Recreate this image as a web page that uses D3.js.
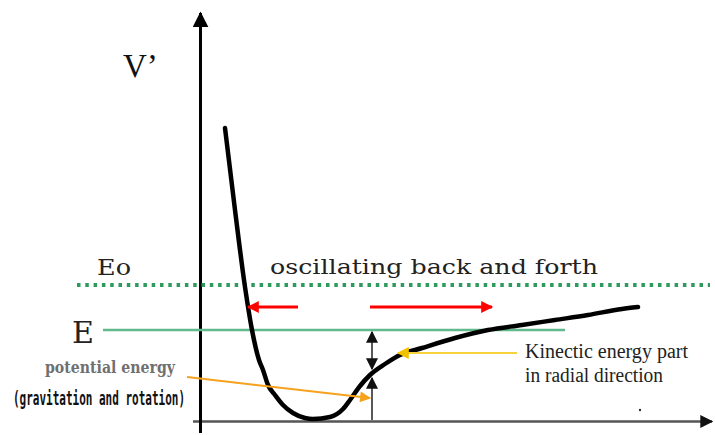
<!DOCTYPE html>
<html><head><meta charset="utf-8">
<script src="https://cdn.jsdelivr.net/npm/d3@7"></script>
<style>html,body{margin:0;padding:0;background:#fff}svg{display:block}</style>
</head><body>
<script>
// ---- data (chart units: r along x, V along y) ----
const rValues = [5, 7, 9, 10.4, 11.8, 12.6, 13.6, 15, 16.6, 18.6, 21, 22.6, 26, 28.6, 30, 32, 34, 37, 40, 44.4, 51, 57.6, 64.4, 71, 77.6, 84.4, 87.6];
const vValues = [73, 52.5, 33.25, 22.5, 15, 12.5, 8.75, 6.25, 3.75, 1.75, 0.5, 0.25, 0.75, 2.75, 5, 8.5, 11.25, 14, 16.25, 18, 20.5, 22.5, 23.75, 25, 26.25, 27.75, 28.25];
const levelNames = ["Eo", "E"];
const levelValues = [33.75, 22.5];
const levelStart = [-24.6, -19.4];
const levelEnd = [102, 73];
const motionArrowFrom = [19.6, 34];
const motionArrowTo = [9.6, 58.4];
const motionLevel = 28.25;
const markerR = 34.4;
const markerV = 11.25;
const titleText = "oscillating back and forth";
const axisLabel = "V’";
const peLabel = ["potential energy", "(gravitation and rotation)"];
const keLabel = ["Kinectic energy part", "in radial direction"];

const W = 715, H = 435;
const x = d3.scaleLinear().domain([0, 100]).range([200, 700]);
const y = d3.scaleLinear().domain([0, 100]).range([420, 20]);

const svg = d3.select("body").append("svg").attr("width", W).attr("height", H);
const defs = svg.append("defs");
function marker(id, color, w, h) {
  defs.append("marker").attr("id", id).attr("viewBox", "0 0 10 10").attr("refX", 9).attr("refY", 5)
    .attr("markerWidth", w).attr("markerHeight", h).attr("markerUnits", "userSpaceOnUse").attr("orient", "auto-start-reverse")
    .append("path").attr("d", "M0,0L10,5L0,10Z").attr("fill", color);
}
marker("axArrow", "#000", 16, 16);
marker("axArrowX", "#111", 15, 13);
marker("redArrow", "#f00", 17, 12);
marker("orArrow", "#f6a21c", 18, 11);
marker("yeArrow", "#f2c200", 14, 12);
marker("blkArrow", "#111", 12, 15);

// axes
svg.append("line").attr("x1", x(-1.4)).attr("x2", x(102.4)).attr("y1", y(0)+1.5).attr("y2", y(0)+1.5)
  .attr("stroke", "#555").attr("stroke-width", 2.5).attr("marker-end", "url(#axArrowX)");
svg.append("line").attr("x1", x(0)+0.5).attr("x2", x(0)+0.5).attr("y1", 433).attr("y2", 13)
  .attr("stroke", "#000").attr("stroke-width", 3).attr("marker-end", "url(#axArrow)");

// energy levels
levelNames.forEach((n, i) => {
  const l = svg.append("line").attr("x1", x(levelStart[i])).attr("x2", x(levelEnd[i]))
    .attr("y1", y(levelValues[i])).attr("y2", y(levelValues[i]));
  if (i === 0) l.attr("stroke", "#2f9a5e").attr("stroke-width", 4).attr("stroke-dasharray", "3.5,4.8");
  else l.attr("stroke", "#62b98c").attr("stroke-width", 2.5);
});

// curve
const pts = rValues.map((r, i) => [x(r), y(vValues[i])]);
svg.append("path").attr("d", d3.line().curve(d3.curveMonotoneX)(pts))
  .attr("fill", "none").attr("stroke", "#000").attr("stroke-width", 4.5).attr("stroke-linecap", "round").attr("stroke-linejoin", "round");

// motion arrows
motionArrowFrom.forEach((f, i) => {
  svg.append("line").attr("x1", x(f)).attr("x2", x(motionArrowTo[i])).attr("y1", y(motionLevel)).attr("y2", y(motionLevel))
    .attr("stroke", "#f00").attr("stroke-width", 3).attr("marker-end", "url(#redArrow)");
});

// vertical energy split arrows
const vx = x(markerR);
svg.append("line").attr("x1", vx).attr("x2", vx).attr("y1", y(0)).attr("y2", y(markerV) + 3)
  .attr("stroke", "#222").attr("stroke-width", 1.5).attr("marker-end", "url(#blkArrow)");
svg.append("line").attr("x1", vx).attr("x2", vx).attr("y1", y(markerV) - 6).attr("y2", y(levelValues[1]) + 2)
  .attr("stroke", "#222").attr("stroke-width", 1.5).attr("marker-end", "url(#blkArrow)").attr("marker-start", "url(#blkArrow)");

// annotation arrows
svg.append("line").attr("x1", x(-2.6)).attr("y1", y(10.75)).attr("x2", x(34)).attr("y2", y(5.5))
  .attr("stroke", "#f6a21c").attr("stroke-width", 2).attr("marker-end", "url(#orArrow)");
svg.append("line").attr("x1", x(63.4)).attr("y1", y(16.75)).attr("x2", x(39.6)).attr("y2", y(16.75))
  .attr("stroke", "#f6d23c").attr("stroke-width", 2).attr("marker-end", "url(#yeArrow)");

// small dot
svg.append("circle").attr("cx", x(88)).attr("cy", y(2.5)).attr("r", 1.2).attr("fill", "#333");

// texts
const serif = "'DejaVu Serif', 'Liberation Serif', serif";
const tserif = "'Liberation Serif', 'DejaVu Serif', serif";
svg.append("text").attr("x", 123).attr("y", 77).attr("font-family", tserif).attr("font-size", 33).attr("fill", "#111").text(axisLabel);
svg.append("text").attr("x", 97).attr("y", 275).attr("font-family", serif).attr("font-size", 22).attr("fill", "#222")
  .attr("textLength", 34).attr("lengthAdjust", "spacingAndGlyphs").text(levelNames[0]);
svg.append("text").attr("x", 72).attr("y", 343).attr("font-family", serif).attr("font-size", 29).attr("fill", "#222")
  .attr("textLength", 22).attr("lengthAdjust", "spacingAndGlyphs").text(levelNames[1]);
svg.append("text").attr("x", 270).attr("y", 274).attr("font-family", serif).attr("font-size", 21).attr("fill", "#222")
  .attr("textLength", 328).attr("lengthAdjust", "spacingAndGlyphs").text(titleText);
svg.append("text").attr("x", 45).attr("y", 373).attr("font-family", serif).attr("font-size", 16).attr("font-weight", "bold").attr("fill", "#707070")
  .attr("textLength", 130).attr("lengthAdjust", "spacingAndGlyphs").text(peLabel[0]);
svg.append("text").attr("x", 13).attr("y", 405).attr("font-family", "'DejaVu Sans Mono', monospace").attr("font-size", 20).attr("font-weight", "bold").attr("fill", "#111")
  .attr("textLength", 172).attr("lengthAdjust", "spacingAndGlyphs").text(peLabel[1]);
svg.append("text").attr("x", 525).attr("y", 358).attr("font-family", tserif).attr("font-size", 20).attr("fill", "#222")
  .attr("textLength", 163).attr("lengthAdjust", "spacingAndGlyphs").text(keLabel[0]);
svg.append("text").attr("x", 525).attr("y", 382).attr("font-family", tserif).attr("font-size", 20).attr("fill", "#222")
  .attr("textLength", 138).attr("lengthAdjust", "spacingAndGlyphs").text(keLabel[1]);
</script>
</body></html>
